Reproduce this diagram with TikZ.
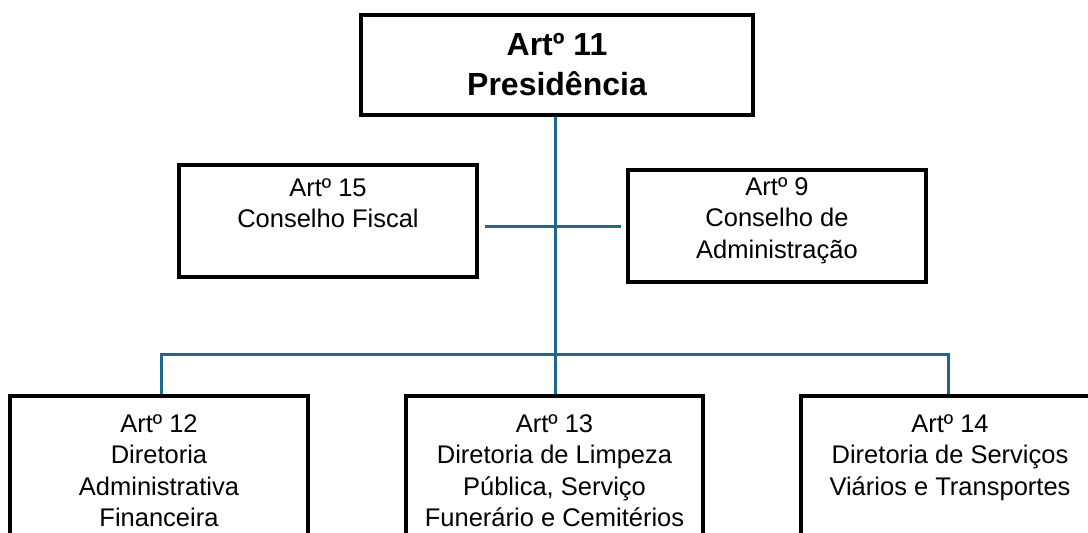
\documentclass[tikz,border=0pt]{standalone}
\usepackage{fontspec}
\setmainfont{Liberation Sans}
\definecolor{conn}{RGB}{31,104,140}
\tikzset{
  box/.style={draw=black, line width=4pt, fill=white, inner sep=0pt},
  conn/.style={draw=conn, line width=3pt},
  txt/.style={anchor=north, inner sep=0pt, align=center, font=\fontsize{25.5pt}{31.5pt}\selectfont},
  btxt/.style={anchor=north, inner sep=0pt, align=center, font=\fontsize{32pt}{40pt}\selectfont\bfseries},
}
\begin{document}
\begin{tikzpicture}[x=1pt, y=-1pt]
\useasboundingbox (0,0) rectangle (1088,533);
\clip (0,0) rectangle (1088,533);
% boxes
\node[box, minimum width=392pt, minimum height=100pt] (P) at (557,65) {};
\node[box, minimum width=298pt, minimum height=112pt] (F) at (328,221) {};
\node[box, minimum width=298pt, minimum height=112pt] (A) at (777,226) {};
\node[box, minimum width=298pt, minimum height=220pt] (L) at (159,506) {};
\node[box, minimum width=297pt, minimum height=220pt] (M) at (554.5,506) {};
\node[box, minimum width=298pt, minimum height=220pt] (R) at (950,506) {};
% connectors
\coordinate (bus) at (555,354);
\coordinate (mid) at (555,226);
\coordinate (dl) at (161,354);
\coordinate (dr) at (948,354);
\draw[conn] (P.south -| bus) -- (M.north -| bus);
\draw[conn] (L.north -| dl) -- (dl) -- (dr) -- (R.north -| dr);
\draw[conn] ([xshift=6pt]F.east |- mid) -- ([xshift=-5pt]A.west |- mid);
% texts
\node[btxt] (tP) at (557,57-23.5) {Artº 11\\Presidência};
\node[txt] (tF) at (328,197-18.6) {Artº 15\\Conselho Fiscal};
\node[txt] (tA) at (777,196-18.6) {Artº 9\\Conselho de\\Administração};
\node[txt] (tL) at (159,433-18.6) {Artº 12\\Diretoria\\Administrativa\\Financeira};
\node[txt] (tM) at (554.5,433-18.6) {Artº 13\\Diretoria de Limpeza\\Pública, Serviço\\Funerário e Cemitérios};
\node[txt] (tR) at (950,433-18.6) {Artº 14\\Diretoria de Serviços\\Viários e Transportes};
\end{tikzpicture}
\end{document}
